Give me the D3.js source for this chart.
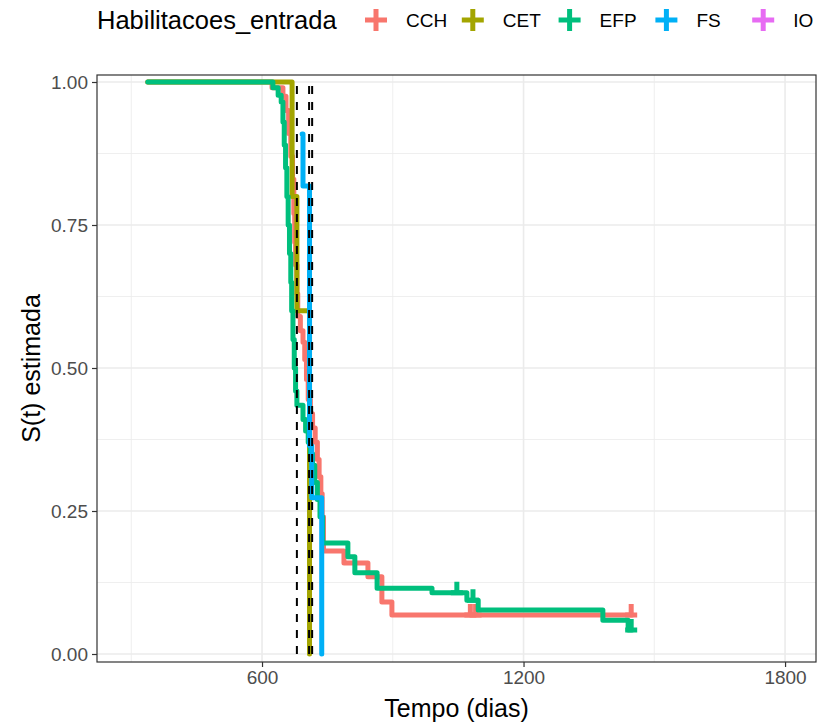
<!DOCTYPE html>
<html>
<head>
<meta charset="utf-8">
<script src="https://cdn.jsdelivr.net/npm/d3@7"></script>
<style>
  body { margin: 0; background: #fff; }
  svg text { font-family: "Liberation Sans", Arial, Helvetica, sans-serif; }
</style>
</head>
<body>
<svg id="chart" width="824" height="724"></svg>
<script>
// estratos e cores (ordem da legenda)
const grupos = ['CCH', 'CET', 'EFP', 'FS', 'IO']
const cores = ['#F8766D', '#A3A500', '#00BF7D', '#00B0F6', '#E76BF3']

// curvas de Kaplan-Meier: [tempo (dias), S(t)]
const kmCCH = [[338, 1.0], [623, 0.99], [648, 0.975], [655, 0.95], [661, 0.91], [666, 0.87], [670, 0.83],
    [673, 0.77], [675, 0.72], [677, 0.68], [680, 0.63], [682, 0.59], [688, 0.565], [694, 0.545], [698, 0.515],
    [702, 0.48], [706, 0.445], [711, 0.42], [716, 0.395], [722, 0.37], [727, 0.34], [731, 0.31], [735, 0.28],
    [738, 0.24], [741, 0.18], [788, 0.159], [843, 0.135], [875, 0.091], [898, 0.068], [1449, 0.068]]
const kmCET = [[338, 1.0], [669, 0.8], [680, 0.6], [709, 0.0]]
const kmEFP = [[338, 1.0], [625, 0.99], [637, 0.977], [644, 0.965], [648, 0.93], [651, 0.89], [654, 0.85],
    [657, 0.80], [660, 0.75], [663, 0.70], [666, 0.65], [668, 0.60], [671, 0.55], [674, 0.50], [677, 0.46],
    [680, 0.435], [694, 0.41], [700, 0.39], [706, 0.37], [711, 0.35], [716, 0.33], [721, 0.30], [727, 0.27],
    [733, 0.24], [739, 0.194], [797, 0.17], [813, 0.142], [864, 0.115], [990, 0.107], [1070, 0.094],
    [1096, 0.077], [1382, 0.059], [1440, 0.042], [1449, 0.042]]
const kmFS = [[692, 0.909], [694, 0.818], [709, 0.364], [714, 0.273], [737, 0.0]]
const kmIO = []

// observacoes censuradas
const censCCH = [[1078, 0.068], [1090, 0.068], [1447, 0.068]]
const censEFP = [[1047, 0.107], [1084, 0.094], [1447, 0.042]]

// medianas (linhas verticais tracejadas)
const medianas = [680, 708, 715]

const xTicks = [600, 1200, 1800]
const xMinor = [300, 900, 1500]
const yTicks = [0, 0.25, 0.5, 0.75, 1]
const yMinor = [0.125, 0.375, 0.625, 0.875]

const curvas = [kmCCH, kmCET, kmEFP, kmFS, kmIO]
const censuras = [censCCH, [], censEFP, [], []]

const panel = {left: 97, right: 816, top: 75, bottom: 662}

const svg = d3.select('#chart')

const x = d3.scaleLinear().domain([221.4, 1871]).range([panel.left, panel.right])
const y = d3.scaleLinear().domain([0, 1]).range([654, 82])

// grelha
const grid = svg.append('g')
grid.selectAll('line.xminor').data(xMinor).enter().append('line')
    .attr('x1', d => x(d)).attr('x2', d => x(d)).attr('y1', panel.top).attr('y2', panel.bottom)
    .attr('stroke', '#EBEBEB').attr('stroke-width', 0.8)
grid.selectAll('line.yminor').data(yMinor).enter().append('line')
    .attr('y1', d => y(d)).attr('y2', d => y(d)).attr('x1', panel.left).attr('x2', panel.right)
    .attr('stroke', '#EBEBEB').attr('stroke-width', 0.8)
grid.selectAll('line.xmajor').data(xTicks).enter().append('line')
    .attr('x1', d => x(d)).attr('x2', d => x(d)).attr('y1', panel.top).attr('y2', panel.bottom)
    .attr('stroke', '#EBEBEB').attr('stroke-width', 1.6)
grid.selectAll('line.ymajor').data(yTicks).enter().append('line')
    .attr('y1', d => y(d)).attr('y2', d => y(d)).attr('x1', panel.left).attr('x2', panel.right)
    .attr('stroke', '#EBEBEB').attr('stroke-width', 1.6)

// curvas
const line = d3.line()
    .x(d => x(d[0]))
    .y(d => y(d[1]))
    .curve(d3.curveStepAfter)

const plot = svg.append('g')
curvas.forEach((c, i) => {
    if (!c.length) return
    plot.append('path')
        .datum(c)
        .attr('d', line)
        .attr('fill', 'none')
        .attr('stroke', cores[i])
        .attr('stroke-width', 5)
        .attr('stroke-linejoin', 'round')
        .attr('stroke-linecap', 'round')

    plot.selectAll(null)
        .data(censuras[i])
        .enter()
            .append('path')
            .attr('d', d => {
                const px = x(d[0]), py = y(d[1])
                return `M${px - 6},${py}H${px + 6}M${px},${py}V${py - 11}`
            })
            .attr('stroke', cores[i])
            .attr('stroke-width', 5)
            .attr('fill', 'none')
})

// medianas
svg.append('g').selectAll('line').data(medianas).enter().append('line')
    .attr('x1', d => x(d)).attr('x2', d => x(d))
    .attr('y1', y(0)).attr('y2', y(1))
    .attr('stroke', '#000')
    .attr('stroke-width', 2)
    .attr('stroke-dasharray', '8,8')

// moldura do painel
svg.append('rect')
    .attr('x', panel.left).attr('y', panel.top)
    .attr('width', panel.right - panel.left).attr('height', panel.bottom - panel.top)
    .attr('fill', 'none').attr('stroke', '#333333').attr('stroke-width', 1.2)

// eixos
const xAxis = svg.append('g')
    .attr('transform', `translate(0,${panel.bottom})`)
    .call(d3.axisBottom(x).tickValues(xTicks).tickFormat(d3.format('d')).tickSize(5).tickPadding(4))
const yAxis = svg.append('g')
    .attr('transform', `translate(${panel.left},0)`)
    .call(d3.axisLeft(y).tickValues(yTicks).tickFormat(d3.format('.2f')).tickSize(5).tickPadding(4))

;[xAxis, yAxis].forEach(a => {
    a.select('.domain').remove()
    a.selectAll('.tick line').attr('stroke', '#333333').attr('stroke-width', 1.2)
    a.selectAll('.tick text').attr('fill', '#4D4D4D').style('font-size', '19px')
})

svg.append('text')
    .attr('x', (panel.left + panel.right) / 2).attr('y', 717)
    .attr('text-anchor', 'middle')
    .style('font-size', '25px')
    .text('Tempo (dias)')

svg.append('text')
    .attr('transform', `translate(40,${(panel.top + panel.bottom) / 2}) rotate(-90)`)
    .attr('text-anchor', 'middle')
    .style('font-size', '25px')
    .text('S(t) estimada')

// legenda
const legend = svg.append('g')
legend.append('text')
    .attr('x', panel.left).attr('y', 29)
    .style('font-size', '25.5px')
    .text('Habilitacoes_entrada')

const keys = legend.selectAll('g.key')
    .data(grupos)
    .enter()
        .append('g')
        .attr('transform', (d, i) => `translate(${376 + i * 96.8},20)`)

keys.append('path')
    .attr('d', 'M-11,0H11M0,-11V11')
    .attr('stroke', (d, i) => cores[i])
    .attr('stroke-width', 5)

keys.append('text')
    .attr('x', 30).attr('y', 7)
    .style('font-size', '19px')
    .text(d => d)
</script>
</body>
</html>
